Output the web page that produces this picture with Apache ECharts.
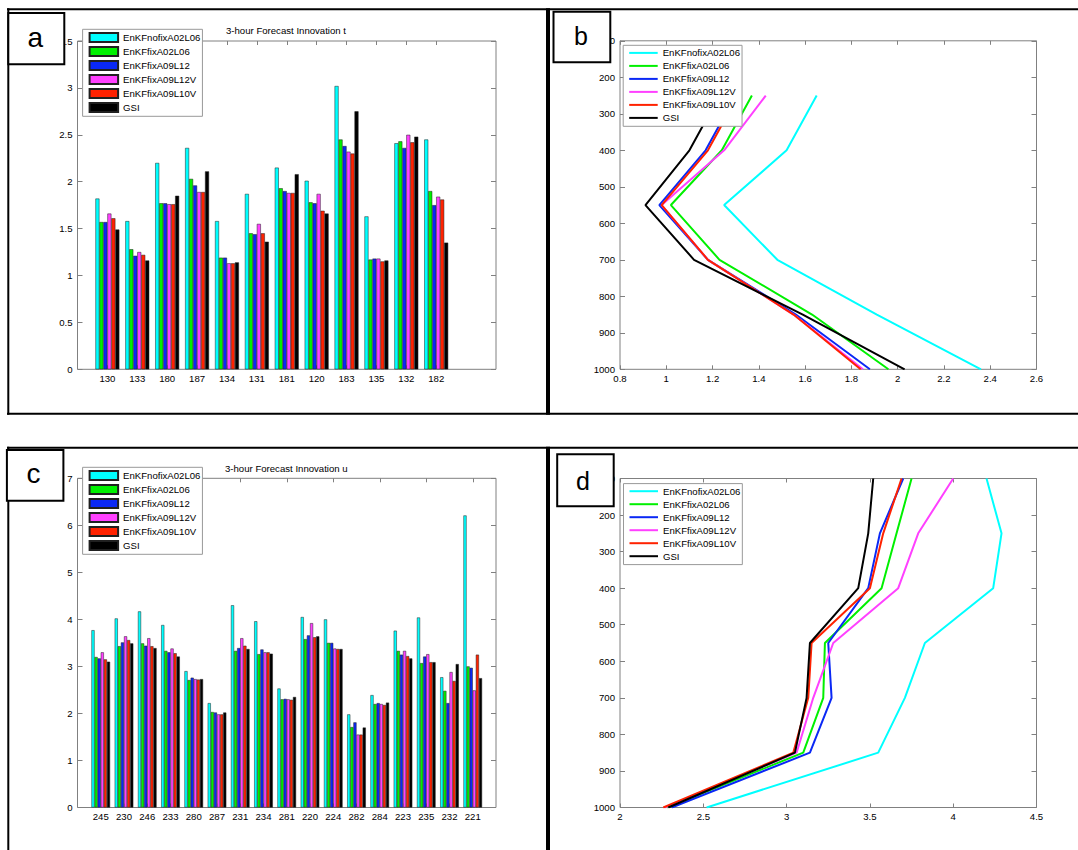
<!DOCTYPE html>
<html><head><meta charset="utf-8">
<script src="https://cdn.jsdelivr.net/npm/echarts@6/dist/echarts.min.js"></script>
<style>html,body{margin:0;padding:0;background:#fff}#c{width:1078px;height:850px}</style>
</head><body><div id="c"></div>
<script>
// ---------- data ----------
const seriesNames = ['EnKFnofixA02L06','EnKFfixA02L06','EnKFfixA09L12','EnKFfixA09L12V','EnKFfixA09L10V','GSI'];
const seriesColors = ['#00ffff','#00f000','#0a28f5','#ff40ff','#ff2200','#000000'];

// panel a: 3-hour forecast innovation t (bars)
const aCategories = ['130','133','180','187','134','131','181','120','183','135','132','182'];
const aNofixA02L06 = [1.82,1.58,2.20,2.36,1.58,1.87,2.15,2.01,3.02,1.63,2.41,2.45];
const aFixA02L06   = [1.57,1.28,1.77,2.03,1.19,1.45,1.93,1.78,2.45,1.17,2.43,1.90];
const aFixA09L12   = [1.57,1.21,1.77,1.96,1.19,1.44,1.90,1.77,2.38,1.18,2.36,1.75];
const aFixA09L12V  = [1.66,1.25,1.76,1.89,1.13,1.55,1.88,1.87,2.32,1.18,2.50,1.84];
const aFixA09L10V  = [1.61,1.22,1.76,1.89,1.13,1.45,1.88,1.69,2.30,1.15,2.42,1.81];
const aGSI         = [1.49,1.16,1.85,2.11,1.14,1.36,2.08,1.66,2.75,1.16,2.48,1.35];

// panel c: 3-hour forecast innovation u (bars)
const cCategories = ['245','230','246','233','280','287','231','234','281','220','224','282','284','223','235','232','221'];
const cNofixA02L06 = [3.77,4.02,4.17,3.88,2.90,2.22,4.30,3.96,2.53,4.05,4.00,1.98,2.39,3.76,4.04,2.77,6.21];
const cFixA02L06   = [3.20,3.43,3.49,3.33,2.71,2.03,3.33,3.26,2.30,3.58,3.50,1.71,2.20,3.33,3.07,2.48,3.00];
const cFixA09L12   = [3.17,3.51,3.44,3.30,2.76,2.02,3.39,3.36,2.31,3.66,3.50,1.81,2.22,3.25,3.21,2.22,2.97];
const cFixA09L12V  = [3.30,3.64,3.60,3.38,2.73,1.98,3.60,3.30,2.30,3.92,3.38,1.55,2.20,3.33,3.26,2.88,2.49];
const cFixA09L10V  = [3.15,3.56,3.43,3.28,2.72,1.98,3.44,3.30,2.29,3.62,3.37,1.55,2.18,3.22,3.09,2.69,3.25];
const cGSI         = [3.10,3.49,3.39,3.21,2.73,2.02,3.37,3.27,2.35,3.64,3.37,1.70,2.23,3.17,3.09,3.05,2.75];

// panels b and d: vertical profiles
const levels = [100,250,400,550,700,850,1000];
const bNofixA02L06 = [null,1.65,1.52,1.25,1.48,1.91,2.36];
const bFixA02L06   = [null,1.37,1.24,1.02,1.23,1.63,1.96];
const bFixA09L12   = [null,1.30,1.17,0.97,1.18,1.56,1.88];
const bFixA09L12V  = [null,1.43,1.25,0.98,1.18,1.55,1.85];
const bFixA09L10V  = [null,1.31,1.18,0.98,1.18,1.55,1.84];
const bGSI         = [null,1.23,1.10,0.91,1.12,1.59,2.03];

const dNofixA02L06 = [4.20,4.29,4.24,3.83,3.71,3.55,2.52];
const dFixA02L06   = [3.75,3.66,3.57,3.23,3.22,3.10,2.28];
const dFixA09L12   = [3.70,3.56,3.49,3.25,3.27,3.14,2.31];
const dFixA09L12V  = [4.00,3.79,3.67,3.28,3.16,3.06,2.27];
const dFixA09L10V  = [3.69,3.58,3.50,3.15,3.13,3.04,2.26];
const dGSI         = [3.52,3.49,3.43,3.14,3.12,3.05,2.29];

const aTitle = '3-hour Forecast Innovation t';
const cTitle = '3-hour Forecast Innovation u';
const panelLetters = ['a','b','c','d'];

// ---------- layout ----------
const FONT = 'Liberation Sans, Arial, sans-serif';
const FS = 9.6;
const AX = '#808080';
const A = {left:77.5, right:496, top:41, bottom:369.3};
const B = {left:620, right:1036.5, top:40.8, bottom:369.3};
const C = {left:77.5, right:496, top:478.3, bottom:807.5};
const D = {left:620, right:1036.5, top:478.5, bottom:807.5};
const aSlots = 14, cSlots = 18;

function g(r, show){ return {left:r.left, top:r.top, width:r.right-r.left, height:r.bottom-r.top,
  show:!!show, borderColor:AX, borderWidth:1, backgroundColor:'transparent', containLabel:false}; }
function dataGrid(r, slots, n){ const u=(r.right-r.left)/slots;
  return {left:r.left+u*0.5, top:r.top, width:u*n, height:r.bottom-r.top, show:false}; }

const grids = [ g(A,true), dataGrid(A,aSlots,aCategories.length), g(B,true), g(C,true), dataGrid(C,cSlots,cCategories.length), g(D,true) ];

const lbl = {color:'#000', fontSize:FS, fontFamily:FONT, formatter:(v)=>String(v)};
const catLbl = {color:'#000', fontSize:FS, fontFamily:FONT};
const tickIn = (len)=>({show:true, inside:true, length:len, lineStyle:{color:AX, width:1}});

const xAxes = [
  {gridIndex:0, type:'value', min:0, max:aSlots, show:false},
  {gridIndex:1, type:'category', data:aCategories, position:'bottom', axisLine:{show:false},
    axisTick:Object.assign(tickIn(4),{alignWithLabel:true}), axisLabel:Object.assign({margin:4, interval:0},catLbl)},
  {gridIndex:1, type:'category', data:aCategories, position:'top', axisLine:{show:false},
    axisTick:Object.assign(tickIn(4),{alignWithLabel:true}), axisLabel:{show:false}},
  {gridIndex:2, type:'value', min:0.8, max:2.6, interval:0.2, position:'bottom', axisLine:{show:false},
    axisTick:tickIn(4), axisLabel:Object.assign({margin:4},lbl), splitLine:{show:false}},
  {gridIndex:2, type:'value', min:0.8, max:2.6, interval:0.2, position:'top', axisLine:{show:false},
    axisTick:tickIn(4), axisLabel:{show:false}, splitLine:{show:false}},
  {gridIndex:3, type:'value', min:0, max:cSlots, show:false},
  {gridIndex:4, type:'category', data:cCategories, position:'bottom', axisLine:{show:false},
    axisTick:Object.assign(tickIn(4),{alignWithLabel:true}), axisLabel:Object.assign({margin:4, interval:0},catLbl)},
  {gridIndex:4, type:'category', data:cCategories, position:'top', axisLine:{show:false},
    axisTick:Object.assign(tickIn(4),{alignWithLabel:true}), axisLabel:{show:false}},
  {gridIndex:5, type:'value', min:2, max:4.5, interval:0.5, position:'bottom', axisLine:{show:false},
    axisTick:tickIn(4), axisLabel:Object.assign({margin:4},lbl), splitLine:{show:false}},
  {gridIndex:5, type:'value', min:2, max:4.5, interval:0.5, position:'top', axisLine:{show:false},
    axisTick:tickIn(4), axisLabel:{show:false}, splitLine:{show:false}}
];

function yPair(gi, min, max, interval, inverse){
  return [
    {gridIndex:gi, type:'value', min, max, interval, inverse:!!inverse, position:'left', axisLine:{show:false},
      axisTick:tickIn(5), axisLabel:Object.assign({margin:5},lbl), splitLine:{show:false}},
    {gridIndex:gi, type:'value', min, max, interval, inverse:!!inverse, position:'right', axisLine:{show:false},
      axisTick:tickIn(5), axisLabel:{show:false}, splitLine:{show:false}}
  ];
}
const yAxes = [
  ...yPair(0, 0, 3.5, 0.5),                                   // 0,1
  {gridIndex:1, type:'value', min:0, max:3.5, show:false},    // 2
  ...yPair(2, 100, 1000, 100, true),                           // 3,4
  ...yPair(3, 0, 7, 1),                                        // 5,6
  {gridIndex:4, type:'value', min:0, max:7, show:false},      // 7
  ...yPair(5, 100, 1000, 100, true)                            // 8,9
];

const aSets = [aNofixA02L06,aFixA02L06,aFixA09L12,aFixA09L12V,aFixA09L10V,aGSI];
const cSets = [cNofixA02L06,cFixA02L06,cFixA09L12,cFixA09L12V,cFixA09L10V,cGSI];
const bSets = [bNofixA02L06,bFixA02L06,bFixA09L12,bFixA09L12V,bFixA09L10V,bGSI];
const dSets = [dNofixA02L06,dFixA02L06,dFixA09L12,dFixA09L12V,dFixA09L10V,dGSI];

const series = [];
function barSeries(sets, tag, xi, yi){
  sets.forEach((vals,i)=>series.push({
    name: seriesNames[i]+'#'+tag, type:'bar', xAxisIndex:xi, yAxisIndex:yi, data:vals,
    barGap:'0%', barCategoryGap:'20%', animation:false,
    itemStyle:{color:seriesColors[i], borderColor:'#202020', borderWidth:0.5}
  }));
}
function lineSeries(sets, tag, xi, yi){
  sets.forEach((vals,i)=>series.push({
    name: seriesNames[i]+'#'+tag, type:'line', xAxisIndex:xi, yAxisIndex:yi,
    data: levels.map((lv,k)=>vals[k]==null?null:[vals[k], lv]).filter(p=>p),
    symbol:'none', showSymbol:false, animation:false, lineStyle:{color:seriesColors[i], width:2},
    itemStyle:{color:seriesColors[i], borderWidth:0}
  }));
}
barSeries(aSets,'a',1,2);
lineSeries(bSets,'b',3,3);
barSeries(cSets,'c',6,7);
lineSeries(dSets,'d',8,8);

function legend(tag, left, top, isBar){
  const L = {
    orient:'vertical', left, top, padding:[2.6,2,3.4,6], itemWidth:28.5, itemHeight:isBar?9:2, itemGap:3,
    icon:'rect',
    backgroundColor:'#fff', borderColor:'#999', borderWidth:1, selectedMode:false,
    textStyle:{color:'#000', fontSize:FS, fontFamily:FONT},
    formatter:(n)=>n.split('#')[0],
    data: seriesNames.map(n=>n+'#'+tag), z:20
  };
  if (!isBar) L.itemStyle = {borderWidth:0};
  return L;
}

const titles = [
  {text:aTitle, left:226, top:25, padding:0, textStyle:{fontSize:FS, fontWeight:'normal', color:'#000', fontFamily:FONT}},
  {text:cTitle, left:225, top:463, padding:0, textStyle:{fontSize:FS, fontWeight:'normal', color:'#000', fontFamily:FONT}}
];

function ln(x1,y1,x2,y2,w){ return {type:'line', z:100, silent:true, shape:{x1,y1,x2,y2}, style:{stroke:'#000', lineWidth:w}}; }
function box(x,y,w,h,letter,tx,ty,fs){
  return [
    {type:'rect', z:100, silent:true, shape:{x,y,width:w,height:h}, style:{fill:'#fff', stroke:'#000', lineWidth:2}},
    {type:'text', z:101, silent:true, x:tx, y:ty, style:{text:letter, fill:'#000', font:'normal '+fs+'px '+FONT, textAlign:'center', textVerticalAlign:'middle'}}
  ];
}
const graphic = [
  ln(7,9.3,1078,9.3,2),
  ln(8.3,8.3,8.3,414.8,2), ln(8.3,446.8,8.3,850,2),
  ln(548,8.3,548,414.8,4), ln(548,446.8,548,850,4),
  ln(7,413.8,1078,413.8,2), ln(7,447.8,1078,447.8,2),
  ...box(8.3,13,56,51.3,panelLetters[0],35.3,37,28),
  ...box(553.5,11.7,56.8,50.6,panelLetters[1],581,36.3,25),
  ...box(6.9,450,56.5,50.7,panelLetters[2],33.5,473.5,28),
  ...box(557.2,454.3,56.5,52,panelLetters[3],583,480.5,25)
];

const chart = echarts.init(document.getElementById('c'), null, {renderer:'svg', width:1078, height:850});
chart.setOption({
  backgroundColor:'#fff',
  animation:false,
  title:titles,
  grid:grids, xAxis:xAxes, yAxis:yAxes, series,
  legend:[ legend('a',82.6,29.3,true), legend('b',623.2,45.3,false), legend('c',82.6,467.3,true), legend('d',623.5,483.6,false) ],
  graphic
});
</script></body></html>
